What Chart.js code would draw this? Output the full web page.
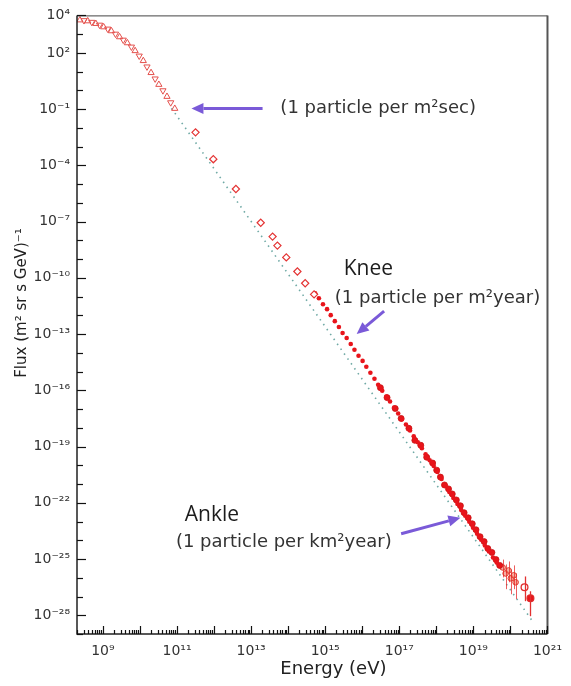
<!DOCTYPE html>
<html>
<head>
<meta charset="utf-8">
<script src="https://cdn.jsdelivr.net/npm/chart.js@4.4.1/dist/chart.umd.min.js"></script>
<style>
  html, body { margin: 0; padding: 0; background: #ffffff; }
  #wrap { width: 571px; height: 686px; }
</style>
</head>
<body>
<div id="wrap"><canvas id="spectrum" width="571" height="686"></canvas></div>
<script>
// All values are log10: energy in eV, flux in (m² sr s GeV)⁻¹.

// Low-energy measurements (open triangles)
const lowEnergyLogE    = [8.38, 8.49, 8.59, 8.70, 8.81, 8.91, 9.02, 9.13, 9.23, 9.34, 9.45, 9.55, 9.66, 9.77, 9.87, 9.98, 10.09, 10.19, 10.30, 10.41, 10.51, 10.62, 10.73, 10.83, 10.94];
const lowEnergyLogFlux = [3.75, 3.73, 3.70, 3.64, 3.56, 3.49, 3.38, 3.28, 3.17, 3.01, 2.85, 2.69, 2.53, 2.32, 2.11, 1.84, 1.58, 1.26, 0.94, 0.62, 0.31, -0.01, -0.33, -0.65, -0.97];

// Direct measurements above 100 GeV (open diamonds)
const directLogE    = [11.50, 11.98, 12.59, 13.26, 13.58, 13.71, 13.95, 14.25, 14.46, 14.70];
const directLogFlux = [-2.24, -3.67, -5.26, -7.06, -7.80, -8.28, -8.91, -9.66, -10.29, -10.88];

// Air-shower measurements across the knee (filled dots)
const kneeLogE    = [14.73, 14.83, 14.94, 15.05, 15.15, 15.26, 15.37, 15.47, 15.58, 15.69, 15.79, 15.90, 16.01, 16.11, 16.22, 16.33, 16.43, 16.54, 16.65, 16.75, 16.86, 16.97, 17.07, 17.18, 17.29,
                     17.39, 17.50, 17.61, 17.71, 17.82, 17.93, 18.03, 18.14, 18.25, 18.35, 18.46, 18.57, 18.67, 18.78, 18.89, 18.99, 19.10, 19.21, 19.31, 19.42, 19.53, 19.63];
const kneeLogFlux = [-10.82, -11.09, -11.41, -11.67, -11.99, -12.31, -12.62, -12.94, -13.21, -13.53, -13.84, -14.16, -14.43, -14.74, -15.06, -15.38, -15.70, -16.02, -16.33, -16.60, -16.92, -17.24, -17.55, -17.82, -18.14,
                     -18.45, -18.77, -19.09, -19.41, -19.73, -20.04, -20.36, -20.73, -21.10, -21.42, -21.74, -22.06, -22.38, -22.69, -23.01, -23.33, -23.65, -23.97, -24.28, -24.60, -24.92, -25.19];

// Second set of shower measurements up to the ankle
const ankleLogE    = [16.49, 16.67, 16.89, 17.05, 17.26, 17.42, 17.58, 17.74, 17.90, 18.01, 18.11, 18.22, 18.33, 18.43, 18.54, 18.65, 18.75, 18.86, 18.97, 19.07, 19.18, 19.29, 19.39, 19.50, 19.61, 19.71];
const ankleLogFlux = [-15.86, -16.39, -16.97, -17.50, -18.03, -18.67, -18.93, -19.57, -19.88, -20.26, -20.63, -21.05, -21.26, -21.53, -21.85, -22.16, -22.53, -22.80, -23.12, -23.44, -23.81, -24.07, -24.44, -24.65, -25.03, -25.34];

// Highest-energy bins with error bars
const tailLogE         = [19.79, 19.87, 19.95, 20.01, 20.09, 20.14];
const tailLogFlux      = [-25.45, -25.77, -25.61, -26.03, -25.87, -26.24];
const tailLogFluxLow   = [-25.98, -26.61, -26.24, -26.88, -26.61, -27.14];
const tailLogFluxHigh  = [-25.03, -25.29, -25.13, -25.56, -25.34, -25.77];

const extremeLogE        = [20.38, 20.54];
const extremeLogFlux     = [-26.51, -27.09];
const extremeLogFluxLow  = [-27.25, -28.05];
const extremeLogFluxHigh = [-25.93, -26.72];

// E^-2.8 reference power law
const guideLogE    = [10.85, 20.60];
const guideLogFlux = [-0.95, -28.33];

// Axis tick labels (exponents of ten)
const energyTickExponents = [9, 11, 13, 15, 17, 19, 21];
const fluxTickExponents   = [4, 2, -1, -4, -7, -10, -13, -16, -19, -22, -25, -28];

// Callouts: text anchored in data space (log10 values)
const calloutTexts = ['(1 particle per m²sec)', 'Knee', '(1 particle per m²year)', 'Ankle', '(1 particle per km²year)'];
const calloutLogE  = [13.79, 15.50, 15.26, 11.21, 10.97];
const calloutLogF  = [-0.97, -9.55, -11.09, -22.64, -24.13];
const calloutBig   = [false, true, false, true, false];

const arrowFromLogE = [13.31, 16.59, 17.05];
const arrowFromLogF = [-0.97, -11.78, -23.65];
const arrowToLogE   = [11.39, 15.85, 18.65];
const arrowToLogF   = [-0.97, -13.00, -22.80];

const toPoints = (le, lf) => le.map((e, i) => ({ x: Math.pow(10, e), y: Math.pow(10, lf[i]) }));

const SUP = { '0': '⁰', '1': '¹', '2': '²', '3': '³', '4': '⁴', '5': '⁵', '6': '⁶', '7': '⁷', '8': '⁸', '9': '⁹', '-': '⁻' };
const pow10Label = (n) => '10' + String(n).split('').map(c => SUP[c]).join('');

const RED = '#e8141b';
const PURPLE = '#7a5ad8';

// Inward tick marks, frame, error bars, callouts and axis titles
const decorations = {
  id: 'decorations',
  afterDatasetsDraw(chart) {
    const { ctx, chartArea: a, scales: { x, y } } = chart;
    ctx.save();

    // error bars
    ctx.strokeStyle = 'rgba(230,40,40,0.75)';
    ctx.lineWidth = 1;
    const bars = (le, lo, hi) => le.forEach((e, i) => {
      const px = Math.round(x.getPixelForValue(Math.pow(10, e))) + 0.5;
      ctx.beginPath();
      ctx.moveTo(px, y.getPixelForValue(Math.pow(10, hi[i])));
      ctx.lineTo(px, y.getPixelForValue(Math.pow(10, lo[i])));
      ctx.stroke();
    });
    bars(tailLogE, tailLogFluxLow, tailLogFluxHigh);
    ctx.strokeStyle = '#e23030';
    ctx.lineWidth = 1.3;
    bars(extremeLogE, extremeLogFluxLow, extremeLogFluxHigh);

    // frame
    ctx.strokeStyle = '#222';
    ctx.lineWidth = 1.5;
    ctx.beginPath();
    ctx.moveTo(a.left, a.top); ctx.lineTo(a.left, a.bottom); ctx.lineTo(a.right, a.bottom);
    ctx.stroke();
    ctx.strokeStyle = '#444';
    ctx.lineWidth = 1;
    ctx.beginPath(); ctx.moveTo(a.left, a.top + 0.5); ctx.lineTo(a.right, a.top + 0.5); ctx.stroke();
    ctx.strokeStyle = '#555';
    ctx.lineWidth = 2;
    ctx.beginPath(); ctx.moveTo(a.right, a.top); ctx.lineTo(a.right, a.bottom); ctx.stroke();

    // x ticks: decades and 2..9 sub-decades, pointing inward
    ctx.strokeStyle = '#111';
    ctx.lineWidth = 1.2;
    for (let d = 8; d <= 21; d++) {
      for (let m = 1; m <= 9; m++) {
        const v = m * Math.pow(10, d);
        if (v < x.min * 0.999 || v > x.max * 1.001) continue;
        const px = Math.round(x.getPixelForValue(v)) + 0.5;
        const len = m === 1 ? 8 : 4;
        ctx.beginPath(); ctx.moveTo(px, a.bottom); ctx.lineTo(px, a.bottom - len); ctx.stroke();
      }
    }
    // y ticks: every decade, longer at labelled ones
    for (let d = -29; d <= 4; d++) {
      const py = Math.round(y.getPixelForValue(Math.pow(10, d))) + 0.5;
      const len = fluxTickExponents.includes(d) ? 9 : 6;
      ctx.beginPath(); ctx.moveTo(a.left, py); ctx.lineTo(a.left + len, py); ctx.stroke();
    }

    // callout arrows
    ctx.strokeStyle = PURPLE;
    ctx.fillStyle = PURPLE;
    ctx.lineWidth = 3;
    arrowFromLogE.forEach((e, i) => {
      const x0 = x.getPixelForValue(Math.pow(10, e));
      const y0 = y.getPixelForValue(Math.pow(10, arrowFromLogF[i]));
      const x1 = x.getPixelForValue(Math.pow(10, arrowToLogE[i]));
      const y1 = y.getPixelForValue(Math.pow(10, arrowToLogF[i]));
      const ang = Math.atan2(y1 - y0, x1 - x0);
      const head = 12, half = 5.5;
      const bx = x1 - head * Math.cos(ang), by = y1 - head * Math.sin(ang);
      ctx.beginPath(); ctx.moveTo(x0, y0); ctx.lineTo(bx, by); ctx.stroke();
      ctx.beginPath();
      ctx.moveTo(x1, y1);
      ctx.lineTo(bx + half * Math.sin(ang), by - half * Math.cos(ang));
      ctx.lineTo(bx - half * Math.sin(ang), by + half * Math.cos(ang));
      ctx.closePath(); ctx.fill();
    });

    // callout texts
    ctx.textBaseline = 'middle';
    ctx.textAlign = 'left';
    calloutTexts.forEach((t, i) => {
      ctx.font = calloutBig[i] ? '21px "Open Sans"' : '18px "DejaVu Sans"';
      ctx.fillStyle = calloutBig[i] ? '#1c1c1c' : '#333';
      ctx.fillText(t, x.getPixelForValue(Math.pow(10, calloutLogE[i])), y.getPixelForValue(Math.pow(10, calloutLogF[i])));
    });

    // axis titles
    ctx.fillStyle = '#222';
    ctx.textAlign = 'center';
    ctx.font = '18px "DejaVu Sans"';
    ctx.fillText('Energy (eV)', a.left + (a.right - a.left) * 0.545, a.bottom + 35);
    ctx.save();
    ctx.translate(22, a.top + (a.bottom - a.top) * 0.465);
    ctx.rotate(-Math.PI / 2);
    ctx.font = '15px "DejaVu Sans"';
    ctx.fillText('Flux (m² sr s GeV)⁻¹', 0, 0);
    ctx.restore();

    ctx.restore();
  }
};

new Chart(document.getElementById('spectrum'), {
  type: 'scatter',
  data: {
    datasets: [
      {
        label: 'E^-2.8',
        data: toPoints(guideLogE, guideLogFlux),
        showLine: true,
        borderColor: 'rgba(95,160,155,0.9)',
        borderWidth: 1.6,
        borderDash: [1.5, 4.5],
        pointRadius: 0,
        order: 5
      },
      {
        label: 'low energy',
        data: toPoints(lowEnergyLogE, lowEnergyLogFlux),
        pointStyle: 'triangle',
        rotation: (c) => (c.dataIndex % 2 ? 180 : 0),
        pointRadius: 3.6,
        borderColor: '#e4504c',
        borderWidth: 1,
        backgroundColor: 'rgba(255,255,255,0)'
      },
      {
        label: 'direct',
        data: toPoints(directLogE, directLogFlux),
        pointStyle: 'rectRot',
        pointRadius: 3.6,
        borderColor: '#e43434',
        borderWidth: 1.2,
        backgroundColor: '#ffffff'
      },
      {
        label: 'knee',
        data: toPoints(kneeLogE, kneeLogFlux),
        pointStyle: 'circle',
        pointRadius: 2.3,
        borderWidth: 0,
        backgroundColor: RED
      },
      {
        label: 'ankle',
        data: toPoints(ankleLogE, ankleLogFlux),
        pointStyle: 'circle',
        pointRadius: 3,
        borderWidth: 0.8,
        borderColor: '#c81010',
        backgroundColor: RED
      },
      {
        label: 'tail',
        data: toPoints(tailLogE, tailLogFlux),
        pointStyle: 'circle',
        pointRadius: 2.8,
        borderWidth: 1,
        borderColor: '#e23a2a',
        backgroundColor: 'rgba(240,120,100,0.6)'
      },
      {
        label: 'extreme',
        data: toPoints(extremeLogE, extremeLogFlux),
        pointStyle: 'circle',
        pointRadius: 3.4,
        borderWidth: 1.3,
        borderColor: '#e02a2a',
        backgroundColor: (c) => (c.dataIndex === 0 ? '#ffffff' : RED)
      }
    ]
  },
  options: {
    responsive: false,
    animation: false,
    devicePixelRatio: 1,
    layout: { padding: { top: 12, right: 15, left: 0, bottom: 0 } },
    plugins: { legend: { display: false }, tooltip: { enabled: false } },
    scales: {
      x: {
        type: 'logarithmic',
        min: 2e8,
        max: 1e21,
        afterBuildTicks: (s) => { s.ticks = energyTickExponents.map(n => ({ value: Math.pow(10, n) })); },
        afterFit: (s) => { s.height = 52; },
        grid: { display: true, drawOnChartArea: false, drawTicks: false },
        border: { display: false },
        ticks: {
          autoSkip: false,
          maxRotation: 0,
          padding: 9,
          color: '#333',
          font: { family: 'DejaVu Sans', size: 14 },
          callback: (v) => pow10Label(Math.round(Math.log10(v)))
        }
      },
      y: {
        type: 'logarithmic',
        min: 1e-29,
        max: 1e4,
        afterBuildTicks: (s) => { s.ticks = fluxTickExponents.map(n => ({ value: Math.pow(10, n) })); },
        afterFit: (s) => { s.width = 77; },
        grid: { display: true, drawOnChartArea: false, drawTicks: false },
        border: { display: false },
        ticks: {
          autoSkip: false,
          padding: 7,
          color: '#333',
          font: { family: 'DejaVu Sans', size: 14 },
          callback: (v) => pow10Label(Math.round(Math.log10(v)))
        }
      }
    }
  },
  plugins: [decorations]
});
</script>
</body>
</html>
